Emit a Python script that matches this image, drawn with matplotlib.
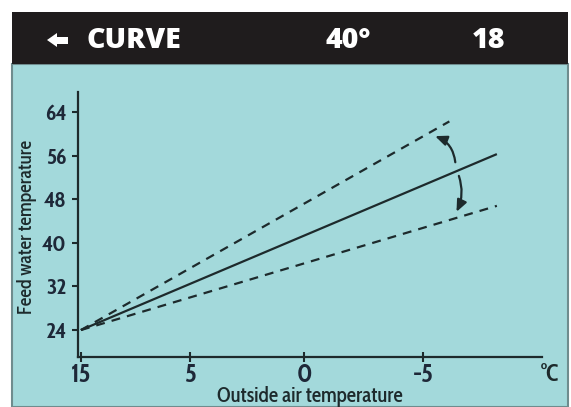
import numpy as np
import matplotlib
matplotlib.use('Agg')
import matplotlib.pyplot as plt
import matplotlib.font_manager as fm
from matplotlib.patches import Rectangle, Polygon
from matplotlib.ticker import FixedLocator

# 数据
x_ticks = [15, 5, 0, -5]
y_ticks = [24, 32, 40, 48, 56, 64]
solid_x = [15, -8.1]
solid_y = [24, 56.3]
upper_x = [15, -6.1]
upper_y = [24, 62.3]
lower_x = [15, -8.1]
lower_y = [24, 46.8]
header = ['CURVE', '40°', '18']

WMAP = {'ultralight': 200, 'light': 300, 'normal': 400, 'regular': 400, 'book': 400,
        'medium': 500, 'roman': 400, 'semibold': 600, 'demibold': 600, 'demi': 600,
        'bold': 700, 'heavy': 800, 'extra bold': 800, 'black': 900}


def max_weight(name):
    ws = []
    for f in fm.fontManager.ttflist:
        if f.name == name:
            w = f.weight
            ws.append(w if isinstance(w, int) else WMAP.get(str(w), 400))
    return max(ws) if ws else 0


def pick(cands, need):
    for n in cands:
        if max_weight(n) >= need:
            return n
    return 'DejaVu Sans'


# 字体：窄体 (类似 Gill Sans Condensed)
cond_bold = pick(['Cabin Condensed', 'Encode Sans Condensed', 'Archivo Narrow',
                  'Barlow Semi Condensed', 'Barlow Condensed', 'Asap Condensed'], 700)
cond_reg = pick(['Cabin Condensed', 'Encode Sans Condensed', 'Archivo Narrow'], 400)
head_font = pick(['Open Sans', 'Lato', 'Cabin'], 800)

W, H = 571, 407
TEAL = '#a3d9db'
INK = '#1d2a2c'

fig = plt.figure(figsize=(W / 100, H / 100), dpi=100)
fig.patch.set_facecolor('white')


def fx(px):
    return px / W


def fy(py):
    return 1 - py / H


# 背景面板和标题栏
fig.patches.append(Rectangle((fx(12), fy(407)), fx(568) - fx(12), fy(64) - fy(407),
                             transform=fig.transFigure, fc=TEAL, ec='#6f8c8e', lw=1.5, zorder=-5))
fig.patches.append(Rectangle((fx(12), fy(64)), fx(568) - fx(12), fy(12) - fy(64),
                             transform=fig.transFigure, fc='#1f1c1d', ec='none', zorder=-4))
arrow_px = [(47, 40), (57, 33), (57, 37), (68, 37), (68, 44), (57, 44), (57, 47)]
fig.patches.append(Polygon([(fx(a), fy(b)) for a, b in arrow_px], closed=True,
                           transform=fig.transFigure, fc='white', ec='none', zorder=-3))

hx = [87, 348, 489]
ha = ['left', 'center', 'center']
for t, x, a in zip(header, hx, ha):
    fig.text(fx(x), fy(41), t, color='white', fontsize=20.5, ha=a, va='center',
             family=[head_font, 'DejaVu Sans'], fontweight='heavy')

# 坐标轴
ax = fig.add_axes([fx(78), fy(357), fx(542) - fx(78), fy(92) - fy(357)])
ax.set_facecolor('none')

# 示意图的x轴刻度不均匀，用分段线性比例
t_pts = [-30, -10, -5, 0, 5, 15, 30]
p_pts = [-543 - 23.8 * 20, -543, -424, -305, -190, -81, -81 + 7.3 * 15]


def fwd(x):
    return np.interp(x, t_pts, p_pts)


def inv(p):
    return np.interp(p, p_pts, t_pts)


ax.set_xscale('function', functions=(fwd, inv))
ax.set_xlim(15.4, -10)
ax.set_ylim(19.05, 67.7)

ax.plot(solid_x, solid_y, color=INK, lw=1.6, solid_capstyle='butt')
ax.plot(upper_x, upper_y, color=INK, lw=1.6, dashes=(4, 3.2))
ax.plot(lower_x, lower_y, color=INK, lw=1.6, dashes=(4, 3.2))

# 弯箭头
ax.annotate('', xy=(-5.5, 59.6), xytext=(-6.35, 54.8),
            arrowprops=dict(arrowstyle='-|>,head_length=0.7,head_width=0.3', color=INK, lw=1.6,
                            connectionstyle='arc3,rad=0.3', shrinkA=0, shrinkB=0))
ax.annotate('', xy=(-6.4, 45.7), xytext=(-6.5, 52.3),
            arrowprops=dict(arrowstyle='-|>,head_length=0.7,head_width=0.3', color=INK, lw=1.6,
                            connectionstyle='arc3,rad=-0.2', shrinkA=0, shrinkB=0))

for s in ['top', 'right']:
    ax.spines[s].set_visible(False)
for s in ['left', 'bottom']:
    ax.spines[s].set_color(INK)
    ax.spines[s].set_linewidth(1.6)

ax.xaxis.set_major_locator(FixedLocator(x_ticks))
ax.xaxis.set_minor_locator(FixedLocator([]))
ax.set_xticklabels([str(v) for v in x_ticks])
ax.set_yticks(y_ticks)
ax.tick_params(axis='y', direction='out', length=4, width=1.5, color=INK, pad=4,
               labelsize=16, labelcolor='#1e2838')
ax.tick_params(axis='x', direction='inout', length=7, width=1.5, color=INK, pad=1,
               labelsize=18.5, labelcolor='#1e2838')
for lab in ax.get_xticklabels() + ax.get_yticklabels():
    lab.set_fontweight('bold')
    lab.set_fontfamily([cond_bold, 'DejaVu Sans'])

fig.text(fx(27), fy(227), 'Feed water temperature', rotation=90, ha='center', va='center',
         fontsize=14, color=INK, family=[cond_reg, 'DejaVu Sans'], fontweight='medium')
fig.text(fx(310), fy(402), 'Outside air temperature', ha='center', va='baseline',
         fontsize=15, color=INK, family=[cond_reg, 'DejaVu Sans'], fontweight='medium')
fig.text(fx(550), fy(375), '°C', ha='center', va='center', fontsize=17, color=INK,
         fontweight='bold', family=[cond_bold, 'DejaVu Sans'])

fig.savefig('out.png', dpi=100)
